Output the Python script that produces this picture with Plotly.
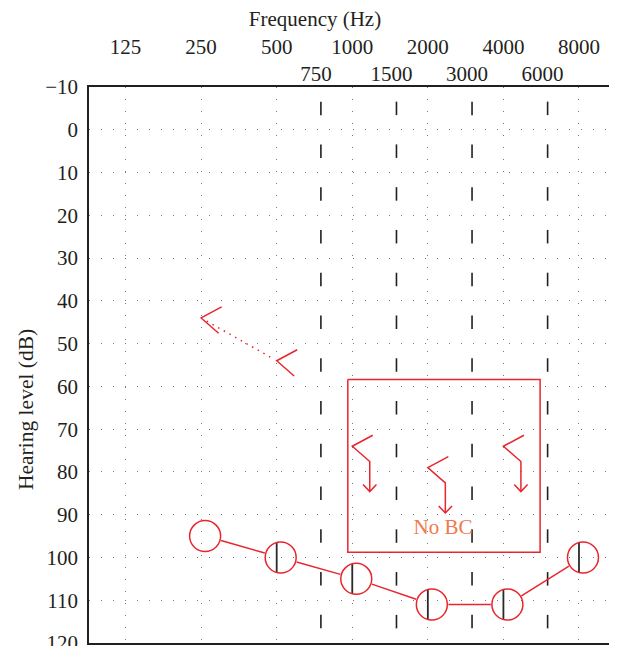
import math
import plotly.graph_objects as go

# ---------------- data ----------------
octave_freqs = [125, 250, 500, 1000, 2000, 4000, 8000]
octave_labels = ["125", "250", "500", "1000", "2000", "4000", "8000"]
mid_freqs = [750, 1500, 3000, 6000]
mid_labels = ["750", "1500", "3000", "6000"]
db_ticks = list(range(-10, 121, 10))
dash_centers = list(range(-5, 120, 10))

# air conduction (circles)
ac_freqs = [250, 500, 1000, 2000, 4000, 8000]
ac_levels = [95, 100, 105, 111, 111, 100]
ac_marked = [False, True, True, True, True, True]

# unmasked bone conduction "<"
bc_freqs = [250, 500]
bc_levels = [44, 54]

# bone conduction, no response (with arrows)
bcnr_freqs = [1000, 2000, 4000]
bcnr_levels = [74, 79, 74]

box_freqs = [960, 5600]
box_levels = [58.4, 98.8]
note_text = "No BC"
note_freq, note_level = 2300, 93.3

# ---------------- layout constants ----------------
PAGE_W, PAGE_H = 617, 646
BODY = 8                       # default page body margin of the html page
FIG_W, FIG_H = PAGE_W - BODY, PAGE_H - BODY
ML, MR, MT, MB = 89 - BODY, 0, 87 - BODY, 3
PW = FIG_W - ML - MR
PH = FIG_H - MT - MB
LX0, LX1 = math.log10(89.4), math.log10(11338)
Y0, Y1 = -10, 120

RED = "#e8262d"
ORANGE = "#f07a4c"
INK = "#231f20"
DOT = "#7a7a7a"
FONT = "Liberation Serif"
FS = 21


def to_px(f, d):
    x = ML + (math.log10(f) - LX0) / (LX1 - LX0) * PW
    y = MT + (d - Y0) / (Y1 - Y0) * PH
    return x, y


def from_px(x, y):
    f = 10 ** (LX0 + (x - ML) / PW * (LX1 - LX0))
    d = Y0 + (y - MT) / PH * (Y1 - Y0)
    return f, d


fig = go.Figure()

# dashed reference lines at inter-octave frequencies
dx, dy = [], []
for f in mid_freqs:
    for c in dash_centers:
        dx += [f, f, None]
        dy += [c - 1.58, c + 1.58, None]
fig.add_trace(go.Scatter(x=dx, y=dy, mode="lines",
                         line=dict(color=INK, width=1.6),
                         hoverinfo="skip", showlegend=False))

# box around no-response region
fig.add_trace(go.Scatter(
    x=[box_freqs[0], box_freqs[1], box_freqs[1], box_freqs[0], box_freqs[0]],
    y=[box_levels[0], box_levels[0], box_levels[1], box_levels[1], box_levels[0]],
    mode="lines", line=dict(color=RED, width=1.5),
    hoverinfo="skip", showlegend=False))

# "No BC" text
fig.add_trace(go.Scatter(x=[note_freq], y=[note_level], mode="text",
                         text=[note_text],
                         textfont=dict(family=FONT, size=21, color=ORANGE),
                         hoverinfo="skip", showlegend=False))

# black vertical marks inside circles
vx, vy = [], []
for f, d, m in zip(ac_freqs, ac_levels, ac_marked):
    if m:
        px, py = to_px(f, d)
        _, da = from_px(px, py - 15)
        _, db = from_px(px, py + 15)
        vx += [f, f, None]
        vy += [da, db, None]
fig.add_trace(go.Scatter(x=vx, y=vy, mode="lines",
                         line=dict(color="#2a2a2a", width=1.8),
                         hoverinfo="skip", showlegend=False))

# circles (slightly right of the grid line) and connecting segments
R = 16.5
OFF = 4
centers = []
for f, d in zip(ac_freqs, ac_levels):
    px, py = to_px(f, d)
    centers.append((px + OFF, py))
cx, cy = [], []
for (x1, y1) in centers:
    f, d = from_px(x1, y1)
    cx.append(f)
    cy.append(d)
sx, sy = [], []
for (x1, y1), (x2, y2) in zip(centers[:-1], centers[1:]):
    L = math.hypot(x2 - x1, y2 - y1)
    ux, uy = (x2 - x1) / L, (y2 - y1) / L
    a = from_px(x1 + ux * R, y1 + uy * R)
    b = from_px(x2 - ux * R, y2 - uy * R)
    sx += [a[0], b[0], None]
    sy += [a[1], b[1], None]
fig.add_trace(go.Scatter(x=sx, y=sy, mode="lines",
                         line=dict(color=RED, width=1.5),
                         hoverinfo="skip", showlegend=False))
fig.add_trace(go.Scatter(x=cx, y=cy, mode="markers",
                         marker=dict(symbol="circle", size=31,
                                     color="rgba(0,0,0,0)",
                                     line=dict(color=RED, width=1.5)),
                         hoverinfo="skip", showlegend=False))


def chevron(f, d):
    px, py = to_px(f, d)
    pts = [(px + 20.5, py - 11), (px, py), (px + 17.5, py + 15.3)]
    return pts


# unmasked bone conduction
bx, by = [], []
for f, d in zip(bc_freqs, bc_levels):
    for p in chevron(f, d):
        q = from_px(*p)
        bx.append(q[0]); by.append(q[1])
    bx.append(None); by.append(None)
fig.add_trace(go.Scatter(x=bx, y=by, mode="lines",
                         line=dict(color=RED, width=1.5),
                         hoverinfo="skip", showlegend=False))

# dotted line between the two bone conduction points
p1 = to_px(bc_freqs[0], bc_levels[0])
p2 = to_px(bc_freqs[1], bc_levels[1])
L = math.hypot(p2[0] - p1[0], p2[1] - p1[1])
ux, uy = (p2[0] - p1[0]) / L, (p2[1] - p1[1]) / L
a = from_px(p1[0] + ux * 6.5, p1[1] + uy * 6.5)
b = from_px(p2[0] - ux * 6.5, p2[1] - uy * 6.5)
fig.add_trace(go.Scatter(x=[a[0], b[0]], y=[a[1], b[1]], mode="lines",
                         line=dict(color=RED, width=1.5, dash="1.5px,5px"),
                         hoverinfo="skip", showlegend=False))

# no-response bone conduction with arrows
nx, ny = [], []
for f, d in zip(bcnr_freqs, bcnr_levels):
    pts = chevron(f, d)
    ax, ay = pts[2]
    tip = (ax, ay + 30)
    pts = pts + [tip]
    for p in pts:
        q = from_px(*p)
        nx.append(q[0]); ny.append(q[1])
    nx.append(None); ny.append(None)
    for p in [(ax - 6.7, tip[1] - 7), tip, (ax + 6.7, tip[1] - 7)]:
        q = from_px(*p)
        nx.append(q[0]); ny.append(q[1])
    nx.append(None); ny.append(None)
fig.add_trace(go.Scatter(x=nx, y=ny, mode="lines",
                         line=dict(color=RED, width=1.5),
                         hoverinfo="skip", showlegend=False))

# y-axis title (placed as in the reference, lower than the axis centre)
YT_X, YT_Y = 26 - BODY, 410 - BODY
fig.add_annotation(text="Hearing level (dB)", textangle=-90,
                   xref="paper", yref="paper",
                   x=(YT_X - ML) / PW, y=1 - (YT_Y - MT) / PH,
                   xanchor="center", yanchor="middle", showarrow=False,
                   font=dict(family=FONT, size=21.5, color=INK))

fig.update_layout(
    width=FIG_W, height=FIG_H,
    margin=dict(l=ML, r=MR, t=MT, b=MB, pad=0, autoexpand=False),
    paper_bgcolor="white", plot_bgcolor="white",
    font=dict(family=FONT, size=FS, color=INK),
    showlegend=False,
    title=dict(text="Frequency (Hz)", x=(315 - BODY) / FIG_W, xref="container",
               xanchor="center", y=1 - (19 - BODY) / FIG_H, yref="container",
               yanchor="middle", font=dict(family=FONT, size=FS, color=INK)),
    xaxis=dict(type="log", range=[LX0, LX1], side="top",
               tickvals=octave_freqs, ticktext=octave_labels,
               ticks="", ticklabelstandoff=23, automargin=False,
               ticklabeloverflow="allow",
               showgrid=True, gridcolor=DOT, gridwidth=1.3,
               griddash="1.3px,10.7px",
               showline=True, linecolor=INK, linewidth=1.6, mirror=True,
               zeroline=False, fixedrange=True),
    xaxis2=dict(type="log", range=[LX0, LX1], side="top", overlaying="x",
                anchor="y", tickvals=mid_freqs, ticktext=mid_labels,
                ticks="", ticklabelstandoff=1, ticklabelshift=-5,
                showgrid=False, automargin=False,
                ticklabeloverflow="allow",
                showline=False, zeroline=False, fixedrange=True),
    yaxis=dict(range=[Y1, Y0], tickvals=db_ticks, ticks="",
               ticklabelstandoff=5, automargin=False,
               ticklabeloverflow="allow",
               showgrid=True, gridcolor=DOT, gridwidth=1.3,
               griddash="1.3px,10.7px",
               showline=True, linecolor=INK, linewidth=1.6, mirror=False,
               zeroline=False, fixedrange=True),
)
# dummy trace so xaxis2 is drawn
fig.add_trace(go.Scatter(x=[1000], y=[None], xaxis="x2", yaxis="y",
                         mode="markers", hoverinfo="skip", showlegend=False))

fig.write_html("out.html", config={"displayModeBar": False})
